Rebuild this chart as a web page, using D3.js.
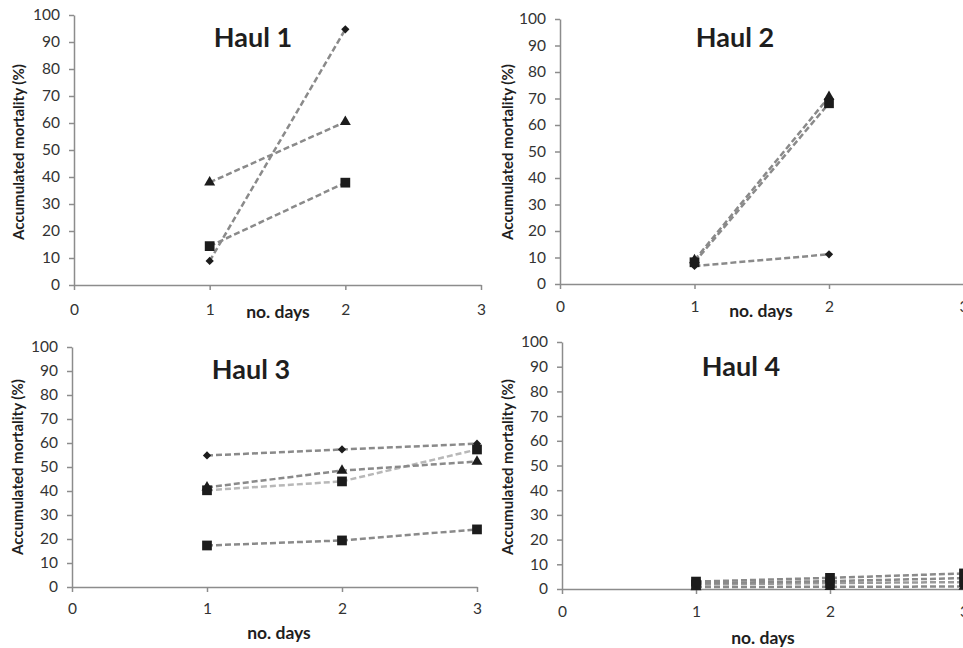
<!DOCTYPE html>
<html>
<head>
<meta charset="utf-8">
<script src="https://cdn.jsdelivr.net/npm/d3@7"></script>
<style>
    body { margin: 0; background: #fff; }
    svg { display: block; }
    .tick text { font-family: Lato, "Open Sans", sans-serif; font-size: 15.5px; fill: #333; }
</style>
</head>
<body>
<div id="id_chart"></div>
<script>
// x ticks and y ticks shared by all four panels
var dayTicks = [0, 1, 2, 3];
var mortTicks = [0, 10, 20, 30, 40, 50, 60, 70, 80, 90, 100];

// Haul 1
var haul1Days = [1, 2];
var haul1Diamond = [8.9, 94.7];
var haul1Triangle = [38, 60.4];
var haul1Square = [14.4, 37.9];

// Haul 2
var haul2Days = [1, 2];
var haul2Diamond = [6.8, 11.2];
var haul2Triangle = [9, 70.6];
var haul2Square = [8.2, 68.2];

// Haul 3
var haul3Days = [1, 2, 3];
var haul3Diamond = [54.8, 57.3, 59.7];
var haul3Triangle = [41.5, 48.5, 52.3];
var haul3SquareLight = [40.3, 44, 57.3];
var haul3Square = [17.3, 19.4, 24];

// Haul 4
var haul4Days = [1, 2, 3];
var haul4Square = [3, 4.5, 6.3];
var haul4Diamond = [2.3, 3.2, 4.4];
var haul4SquareLight = [1.8, 2.4, 2.8];
var haul4Triangle = [0.8, 0.9, 1];

var panels = [
    {title: "Haul 1", x0: 74, x3: 481, yTop: 15, yBot: 285, tickY: 315, daysX: 278, daysY: 318, titleX: 253, titleY: 47, labX: 19, labY: 152,
        days: haul1Days,
        series: [
            {values: haul1Diamond, shape: "diamond", color: "#8a8a8a"},
            {values: haul1Triangle, shape: "triangle", color: "#8a8a8a"},
            {values: haul1Square, shape: "square", color: "#8a8a8a"}
        ]},
    {title: "Haul 2", x0: 560, x3: 963.5, yTop: 19, yBot: 284, tickY: 312, daysX: 761, daysY: 317, titleX: 735, titleY: 47, labX: 508, labY: 152,
        days: haul2Days,
        series: [
            {values: haul2Diamond, shape: "diamond", color: "#8a8a8a"},
            {values: haul2Triangle, shape: "triangle", color: "#8a8a8a"},
            {values: haul2Square, shape: "square", color: "#8a8a8a"}
        ]},
    {title: "Haul 3", x0: 72, x3: 477, yTop: 347, yBot: 587, tickY: 614, daysX: 279, daysY: 639, titleX: 251, titleY: 379, labX: 18, labY: 467,
        days: haul3Days,
        series: [
            {values: haul3Diamond, shape: "diamond", color: "#8a8a8a"},
            {values: haul3SquareLight, shape: "square", color: "#b8b8b8"},
            {values: haul3Triangle, shape: "triangle", color: "#8a8a8a"},
            {values: haul3Square, shape: "square", color: "#8a8a8a"}
        ]},
    {title: "Haul 4", x0: 562, x3: 964, yTop: 342, yBot: 589, tickY: 617, daysX: 763, daysY: 644, titleX: 741, titleY: 376, labX: 508, labY: 467,
        days: haul4Days,
        series: [
            {values: haul4Triangle, shape: "triangle", color: "#8a8a8a"},
            {values: haul4SquareLight, shape: "square", color: "#9a9a9a"},
            {values: haul4Diamond, shape: "diamond", color: "#8a8a8a"},
            {values: haul4Square, shape: "square", color: "#8a8a8a"}
        ]}
];

var svg = d3.select("#id_chart").append("svg")
    .attr("width", 963)
    .attr("height", 648);

// diamond = square turned 45 degrees (Excel style), not d3's tall diamond
var symbolFor = {
    diamond: {path: d3.symbol().type(d3.symbolSquare).size(34)(), rotate: 45},
    triangle: {path: d3.symbol().type(d3.symbolTriangle).size(52)(), rotate: 0},
    square: {path: d3.symbol().type(d3.symbolSquare).size(95)(), rotate: 0}
};

panels.forEach(drawPanel);

function drawPanel(p) {
    var g = svg.append("g");

    var x = d3.scaleLinear().domain([0, 3]).range([p.x0, p.x3]);
    var y = d3.scaleLinear().domain([0, 100]).range([p.yBot, p.yTop]);

    // y axis
    var yAxis = g.append("g")
        .attr("transform", "translate(" + p.x0 + ",0)")
        .call(d3.axisLeft(y).tickValues(mortTicks).tickSize(5).tickPadding(9).tickSizeOuter(0));
    yAxis.select(".domain").attr("stroke", "#8c8c8c").attr("stroke-width", 1.5);
    yAxis.selectAll(".tick line").attr("stroke", "#8c8c8c").attr("stroke-width", 1.5);

    // x axis
    var xAxis = g.append("g")
        .attr("transform", "translate(0," + p.yBot + ")")
        .call(d3.axisBottom(x).tickValues(dayTicks).tickFormat(d3.format("d")).tickSize(5).tickSizeOuter(0));
    xAxis.select(".domain").attr("stroke", "#8c8c8c").attr("stroke-width", 1.5);
    xAxis.selectAll(".tick line").attr("stroke", "#8c8c8c").attr("stroke-width", 1.5);
    xAxis.selectAll(".tick text")
        .attr("y", null)
        .attr("dy", null)
        .attr("transform", "translate(0," + (p.tickY - p.yBot) + ")");

    // lines
    var line = d3.line()
        .x(function (d) { return x(d.day); })
        .y(function (d) { return y(d.value); });

    p.series.forEach(function (s) {
        var pts = p.days.map(function (day, i) {
            return {day: day, value: s.values[i]};
        });
        g.append("path")
            .datum(pts)
            .attr("d", line)
            .attr("fill", "none")
            .attr("stroke", s.color)
            .attr("stroke-width", 2.5)
            .attr("stroke-dasharray", "6,3");
    });

    // markers on top
    p.series.forEach(function (s) {
        var sym = symbolFor[s.shape];
        g.selectAll(null)
            .data(p.days.map(function (day, i) { return {day: day, value: s.values[i]}; }))
            .enter()
            .append("path")
            .attr("d", sym.path)
            .attr("transform", function (d) {
                return "translate(" + x(d.day) + "," + y(d.value) + ") rotate(" + sym.rotate + ")";
            })
            .attr("fill", "#1c1c1c");
    });

    // titles and labels
    g.append("text")
        .attr("x", p.titleX)
        .attr("y", p.titleY)
        .attr("text-anchor", "middle")
        .attr("font-family", "Lato, 'Open Sans', sans-serif")
        .attr("font-weight", "bold")
        .attr("font-size", 27)
        .attr("fill", "#1e1e1e")
        .text(p.title);

    g.append("text")
        .attr("x", p.daysX)
        .attr("y", p.daysY)
        .attr("text-anchor", "middle")
        .attr("font-family", "Lato, 'Open Sans', sans-serif")
        .attr("font-weight", "bold")
        .attr("font-size", 17.5)
        .attr("fill", "#1e1e1e")
        .text("no. days");

    g.append("text")
        .attr("transform", "translate(" + p.labX + "," + p.labY + ") rotate(-90)")
        .attr("text-anchor", "middle")
        .attr("dy", "0.35em")
        .attr("font-family", "Lato, 'Open Sans', sans-serif")
        .attr("font-weight", "bold")
        .attr("font-size", 15)
        .attr("fill", "#1e1e1e")
        .text("Accumulated mortality (%)");
}
</script>
</body>
</html>
